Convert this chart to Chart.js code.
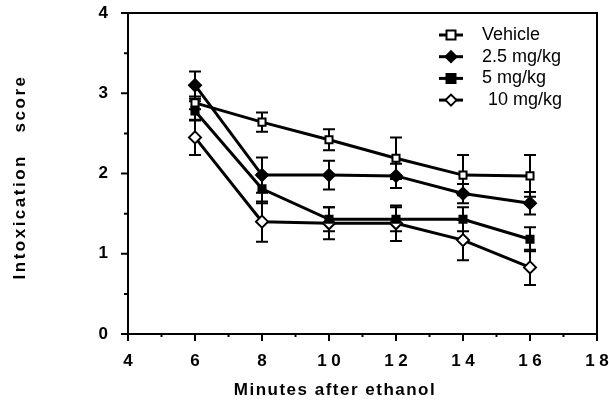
<!DOCTYPE html>
<html>
<head>
<meta charset="utf-8">
<script src="https://cdn.jsdelivr.net/npm/chart.js@4"></script>
<style>
  html, body { margin: 0; padding: 0; background: #fff; }
  #wrap { width: 609px; height: 405px; }
</style>
</head>
<body>
<div id="wrap"><canvas id="intox-chart" width="609" height="405"></canvas></div>
<script>
//
// Intoxication score chart
//

const minutes = [6, 8, 10, 12, 14, 16];

const vehicle = [2.88, 2.64, 2.42, 2.19, 1.98, 1.97];
const vehicleErr = [0.08, 0.12, 0.13, 0.26, 0.25, 0.26];

const dose25 = [3.1, 1.98, 1.98, 1.97, 1.75, 1.63];
const dose25Err = [0.17, 0.22, 0.18, 0.15, 0.12, 0.14];

const dose5 = [2.78, 1.81, 1.43, 1.43, 1.43, 1.18];
const dose5Err = [0.12, 0.18, 0.15, 0.15, 0.15, 0.15];

const dose10 = [2.45, 1.4, 1.38, 1.38, 1.17, 0.83];
const dose10Err = [0.22, 0.25, 0.2, 0.22, 0.25, 0.22];

const seriesLabels = ['Vehicle', '2.5 mg/kg', '5 mg/kg', '10 mg/kg'];
const xTicks = [4, 6, 8, 10, 12, 14, 16, 18];
const yTicks = [0, 1, 2, 3, 4];
const xTitle = 'Minutes after ethanol';
const yTitle = 'Intoxication   score';

const FONT = '"Liberation Sans", Arial, Helvetica, sans-serif';

function points(ys) {
  return minutes.map((m, i) => ({x: m, y: ys[i]}));
}

function series(label, ys, errs, style, fill) {
  return {
    label: label,
    data: points(ys),
    errors: errs,
    showLine: true,
    borderColor: '#000',
    borderWidth: 3,
    pointStyle: style,
    pointRadius: style === 'rect' ? 5 : 6,
    pointBorderWidth: 2,
    pointBackgroundColor: fill,
    pointBorderColor: '#000',
  };
}

// error bars drawn through the scales
const errorBars = {
  id: 'errorBars',
  beforeDatasetsDraw(chart) {
    const {ctx, scales: {x, y}} = chart;
    ctx.save();
    ctx.strokeStyle = '#000';
    ctx.lineWidth = 2;
    chart.data.datasets.forEach(ds => {
      ds.data.forEach((p, i) => {
        const px = x.getPixelForValue(p.x);
        const top = y.getPixelForValue(p.y + ds.errors[i]);
        const bot = y.getPixelForValue(p.y - ds.errors[i]);
        ctx.beginPath();
        ctx.moveTo(px, top); ctx.lineTo(px, bot);
        ctx.moveTo(px - 6, top); ctx.lineTo(px + 6, top);
        ctx.moveTo(px - 6, bot); ctx.lineTo(px + 6, bot);
        ctx.stroke();
      });
    });
    ctx.restore();
  }
};

// box frame, outward ticks and axis titles
const frame = {
  id: 'frame',
  afterDraw(chart) {
    const {ctx, chartArea: a, scales: {x, y}} = chart;
    ctx.save();
    ctx.strokeStyle = '#000';
    ctx.lineWidth = 2;
    ctx.strokeRect(a.left, a.top, a.right - a.left, a.bottom - a.top);
    ctx.beginPath();
    for (let v = 4; v <= 18; v++) {
      const px = x.getPixelForValue(v);
      ctx.moveTo(px, a.bottom);
      ctx.lineTo(px, a.bottom + (v % 2 === 0 ? 7 : 3));
    }
    for (let v = 0; v <= 4; v += 0.5) {
      const py = y.getPixelForValue(v);
      ctx.moveTo(a.left, py);
      ctx.lineTo(a.left - (v % 1 === 0 ? 7 : 4), py);
    }
    ctx.stroke();

    ctx.fillStyle = '#000';
    ctx.textAlign = 'center';
    ctx.textBaseline = 'middle';
    ctx.font = 'bold 17px ' + FONT;
    ctx.letterSpacing = '1.5px';
    ctx.fillText(xTitle, 335, 390);
    ctx.translate(20, 177);
    ctx.rotate(-Math.PI / 2);
    ctx.letterSpacing = '2.5px';
    ctx.fillText(yTitle, 0, 0);
    ctx.restore();
  }
};

// legend inside the plot, top right
const insideLegend = {
  id: 'insideLegend',
  afterDraw(chart) {
    const {ctx, chartArea: a} = chart;
    ctx.save();
    ctx.font = '18px ' + FONT;
    ctx.textBaseline = 'middle';
    chart.data.datasets.forEach((ds, i) => {
      const cx = a.left + 323;
      const cy = a.top + 22 + i * 21.7;
      ctx.strokeStyle = '#000';
      ctx.lineWidth = 3;
      ctx.beginPath();
      ctx.moveTo(cx - 12, cy); ctx.lineTo(cx + 12, cy);
      ctx.stroke();
      ctx.lineWidth = 2;
      ctx.fillStyle = ds.pointBackgroundColor;
      ctx.beginPath();
      if (ds.pointStyle === 'rect') {
        ctx.rect(cx - 4.5, cy - 4.5, 9, 9);
      } else {
        ctx.moveTo(cx, cy - 5.5); ctx.lineTo(cx + 5.5, cy);
        ctx.lineTo(cx, cy + 5.5); ctx.lineTo(cx - 5.5, cy);
        ctx.closePath();
      }
      ctx.fill();
      ctx.stroke();
      ctx.fillStyle = '#000';
      ctx.fillText(ds.label, cx + 31 + (i === 3 ? 6 : 0), cy);
    });
    ctx.restore();
  }
};

const data = {
  datasets: [
    series(seriesLabels[0], vehicle, vehicleErr, 'rect', '#fff'),
    series(seriesLabels[1], dose25, dose25Err, 'rectRot', '#000'),
    series(seriesLabels[2], dose5, dose5Err, 'rect', '#000'),
    series(seriesLabels[3], dose10, dose10Err, 'rectRot', '#fff'),
  ]
};

const config = {
  type: 'scatter',
  data: data,
  options: {
    responsive: false,
    animation: false,
    layout: {padding: {top: 13, right: 12, left: 0, bottom: 0}},
    plugins: {
      legend: {display: false},
      tooltip: {enabled: false}
    },
    scales: {
      x: {
        type: 'linear',
        min: 4,
        max: 18,
        afterBuildTicks: s => { s.ticks = xTicks.map(v => ({value: v})); },
        afterFit: s => { s.height = 71; s.paddingLeft = 0; s.paddingRight = 0; },
        grid: {display: false},
        border: {display: false},
        ticks: {
          color: '#000',
          padding: 9,
          maxRotation: 0,
          callback: v => String(v).split('').join(' '),
          font: {family: FONT, size: 17, weight: 'bold'}
        }
      },
      y: {
        min: 0,
        max: 4,
        afterBuildTicks: s => { s.ticks = yTicks.map(v => ({value: v})); },
        afterFit: s => { s.width = 128; s.paddingTop = 0; s.paddingBottom = 0; },
        grid: {display: false},
        border: {display: false},
        ticks: {
          color: '#000',
          padding: 12,
          font: {family: FONT, size: 17, weight: 'bold'}
        }
      }
    }
  },
  plugins: [errorBars, frame, insideLegend]
};

const myChart = new Chart(document.getElementById('intox-chart'), config);
</script>
</body>
</html>
